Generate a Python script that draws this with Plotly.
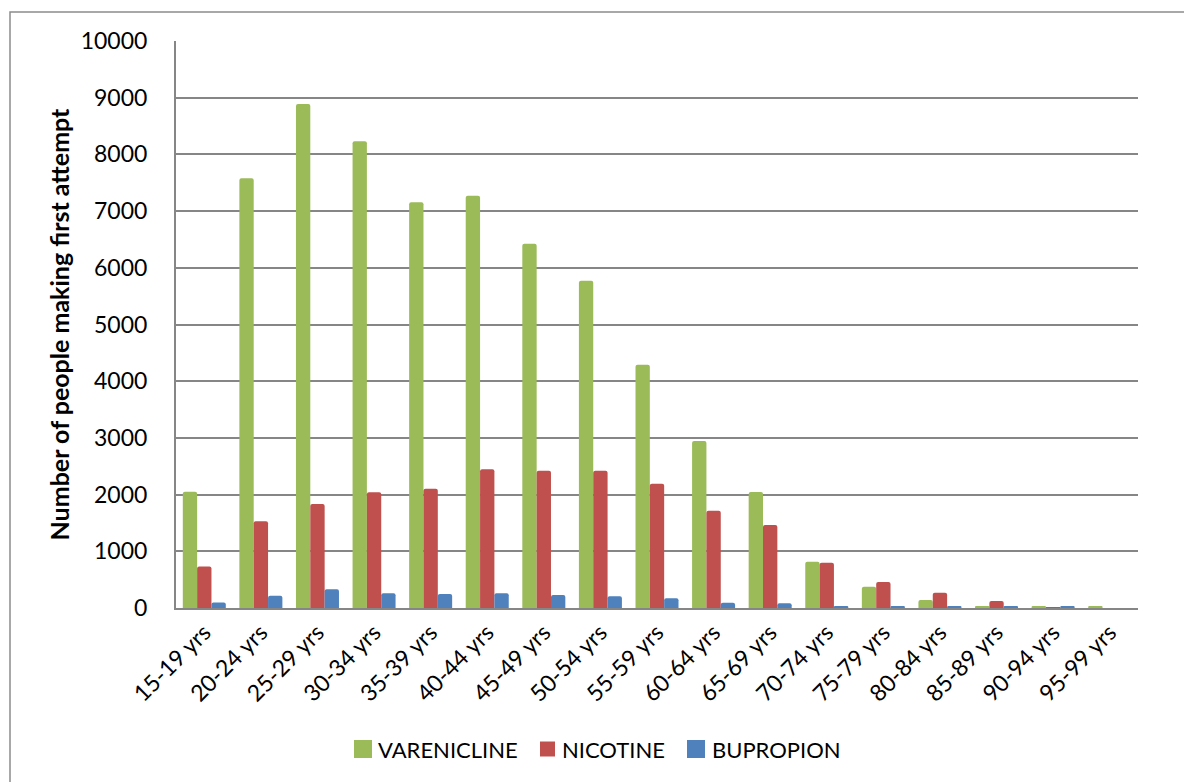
import plotly.graph_objects as go

categories = ["15-19 yrs", "20-24 yrs", "25-29 yrs", "30-34 yrs", "35-39 yrs", "40-44 yrs",
              "45-49 yrs", "50-54 yrs", "55-59 yrs", "60-64 yrs", "65-69 yrs", "70-74 yrs",
              "75-79 yrs", "80-84 yrs", "85-89 yrs", "90-94 yrs", "95-99 yrs"]
varenicline = [2050, 7580, 8890, 8230, 7155, 7272, 6425, 5770, 4290, 2945, 2045, 817,
               376, 141, 35, 35, 35]
nicotine = [730, 1530, 1834, 2040, 2105, 2446, 2422, 2422, 2190, 1715, 1465, 800,
            459, 270, 123, 12, 0]
bupropion = [95, 217, 330, 259, 249, 259, 229, 206, 171, 94, 82, 35, 35, 35, 35, 35, 0]
y_ticks = [0, 1000, 2000, 3000, 4000, 5000, 6000, 7000, 8000, 9000, 10000]

series = [("VARENICLINE", varenicline, "#9BBB59"),
          ("NICOTINE", nicotine, "#C0504D"),
          ("BUPROPION", bupropion, "#4F81BD")]

FONT = "Lato"
# plot area in page pixels (page has an 8px body margin)
PL, PR, PT, PB = 176, 1138, 41, 608
def px(x):
    return (x - PL) / (PR - PL)
def py(y):
    return (PB - y) / (PB - PT)

fig = go.Figure()
for name, vals, col in series:
    fig.add_trace(go.Bar(x=categories, y=vals, name=name, showlegend=False,
                         marker=dict(color=col, line=dict(width=0), cornerradius=2)))

# manual legend (square swatches + labels)
legend_pos = [(354, 18, 376), (540, 15, 560), (687, 18, 710)]
shapes = [dict(type="rect", xref="paper", yref="paper", x0=px(10), x1=px(1200),
               y0=py(800), y1=py(12), line=dict(color="#8c8c8c", width=1.5),
               fillcolor="rgba(0,0,0,0)", layer="below")]
annotations = []
LEG_CY = 749
for (name, vals, col), (sx, ss, tx) in zip(series, legend_pos):
    shapes.append(dict(type="rect", xref="paper", yref="paper", x0=px(sx), x1=px(sx + ss),
                       y0=py(LEG_CY + ss / 2), y1=py(LEG_CY - ss / 2),
                       fillcolor=col, line=dict(width=0)))
    annotations.append(dict(xref="paper", yref="paper", x=px(tx), y=py(LEG_CY), text=name,
                            showarrow=False, xanchor="left", yanchor="middle",
                            font=dict(family=FONT, size=22, color="black")))

fig.update_layout(
    width=1184, height=774,
    margin=dict(l=PL - 8, r=1192 - PR, t=PT - 8, b=782 - PB),
    paper_bgcolor="white", plot_bgcolor="white",
    barmode="group", bargap=0.24, bargroupgap=0,
    font=dict(family=FONT, size=22, color="black"),
    showlegend=False,
    shapes=shapes, annotations=annotations,
)
fig.update_xaxes(showline=True, linecolor="#868686", linewidth=2, ticks="",
                 tickangle=-45, tickfont=dict(size=23), showgrid=False)
fig.update_yaxes(range=[0, 10000], tickvals=y_ticks, tickformat="d", showgrid=True,
                 gridcolor="#868686", gridwidth=1.5, showline=True, linecolor="#868686",
                 linewidth=2, zeroline=False, tickfont=dict(size=23), ticklabelstandoff=22,
                 title=dict(text="<b>Number of people making first attempt</b>",
                            font=dict(size=25), standoff=4))

fig.write_html("out.html")
